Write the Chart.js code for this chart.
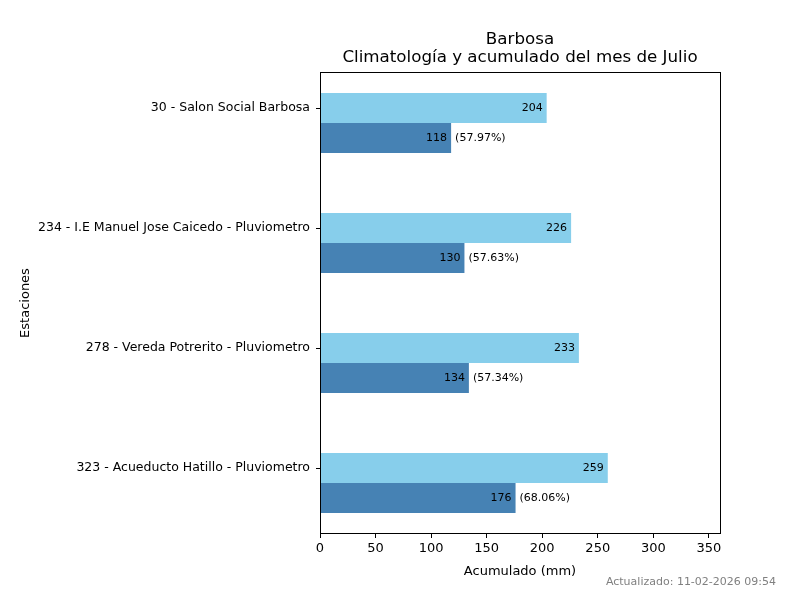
<!DOCTYPE html>
<html>
<head>
<meta charset="utf-8">
<script src="https://cdn.jsdelivr.net/npm/chart.js@4/dist/chart.umd.min.js"></script>
<style>
  html, body { margin: 0; padding: 0; background: #fff; }
  #wrap { width: 800px; height: 600px; }
</style>
</head>
<body>
<div id="wrap"><canvas id="chart"></canvas></div>
<script>
// datos
const estaciones = [
  '30 - Salon Social Barbosa',
  '234 - I.E Manuel Jose Caicedo - Pluviometro',
  '278 - Vereda Potrerito - Pluviometro',
  '323 - Acueducto Hatillo - Pluviometro'
];
const climatologia = [204, 226, 233, 259];
const acumulado = [118, 130, 134, 176];
const porcentajes = ['57.97%', '57.63%', '57.34%', '68.06%'];
const xTicks = [0, 50, 100, 150, 200, 250, 300, 350];

const FONT = 'DejaVu Sans';

// marco completo + titulo + etiquetas de las barras
const extras = {
  id: 'extras',
  afterDatasetsDraw(chart) {
    const ctx = chart.ctx;
    const a = chart.chartArea;
    ctx.save();
    ctx.font = '11px "' + FONT + '"';
    ctx.fillStyle = '#000';
    ctx.textBaseline = 'middle';
    chart.getDatasetMeta(0).data.forEach((bar, i) => {
      ctx.textAlign = 'right';
      ctx.fillText(String(climatologia[i]), bar.x - 4, bar.y);
    });
    chart.getDatasetMeta(1).data.forEach((bar, i) => {
      ctx.textAlign = 'right';
      ctx.fillText(String(acumulado[i]), bar.x - 4, bar.y);
      ctx.textAlign = 'left';
      ctx.fillText('(' + porcentajes[i] + ')', bar.x + 4, bar.y);
    });
    ctx.strokeStyle = '#000';
    ctx.lineWidth = 1;
    ctx.strokeRect(a.left + 0.5, a.top + 0.5, a.right - a.left, a.bottom - a.top - 1);

    const cx = (a.left + a.right) / 2;
    ctx.textAlign = 'center';
    ctx.font = '16.7px "' + FONT + '"';
    ctx.fillText('Barbosa', cx, 40);
    ctx.fillText('Climatología y acumulado del mes de Julio', cx, 58);

    ctx.font = '11px "' + FONT + '"';
    ctx.fillStyle = '#808080';
    ctx.textAlign = 'right';
    ctx.fillText('Actualizado: 11-02-2026 09:54', 776, 582);
    ctx.restore();
  }
};

new Chart(document.getElementById('chart'), {
  type: 'bar',
  data: {
    datasets: [
      {
        label: 'Climatología',
        data: climatologia.map((v, i) => ({ x: v, y: i })),
        backgroundColor: '#87CEEB',
        categoryPercentage: 0.5,
        barPercentage: 1.0
      },
      {
        label: 'Acumulado',
        data: acumulado.map((v, i) => ({ x: v, y: i })),
        backgroundColor: '#4682B4',
        categoryPercentage: 0.5,
        barPercentage: 1.0
      }
    ]
  },
  options: {
    indexAxis: 'y',
    responsive: true,
    maintainAspectRatio: false,
    animation: false,
    layout: { padding: { top: 72, right: 80, left: 0, bottom: 0 } },
    plugins: {
      legend: { display: false },
      tooltip: { enabled: false }
    },
    scales: {
      x: {
        type: 'linear',
        min: 0,
        max: 360,
        border: { display: false },
        grid: { drawOnChartArea: false, drawTicks: true, tickLength: 4, color: '#000' },
        afterBuildTicks: (scale) => { scale.ticks = xTicks.map(v => ({ value: v })); },
        ticks: { color: '#000', padding: 3, font: { family: FONT, size: 13 }, maxRotation: 0 },
        title: {
          display: true,
          text: 'Acumulado (mm)',
          color: '#000',
          font: { family: FONT, size: 13 },
          padding: { top: 4, bottom: 21 }
        },
        afterFit: (scale) => { scale.height = 66; }
      },
      y: {
        type: 'linear',
        reverse: true,
        offset: false,
        min: -0.425,
        max: 3.425,
        border: { display: false },
        grid: { offset: false, drawOnChartArea: false, drawTicks: true, tickLength: 4, color: '#000' },
        // el tick va al centro de la barra de climatologia (como en matplotlib)
        afterBuildTicks: (scale) => { scale.ticks = estaciones.map((s, i) => ({ value: i - 0.125 })); },
        ticks: {
          color: '#000',
          padding: 6,
          font: { family: FONT, size: 12.5 },
          callback: (v, idx) => estaciones[idx]
        },
        title: {
          display: true,
          text: 'Estaciones',
          color: '#000',
          font: { family: FONT, size: 13 },
          padding: { top: 18, bottom: 0 }
        },
        afterFit: (scale) => { scale.width = 320; }
      }
    }
  },
  plugins: [extras]
});
</script>
</body>
</html>
